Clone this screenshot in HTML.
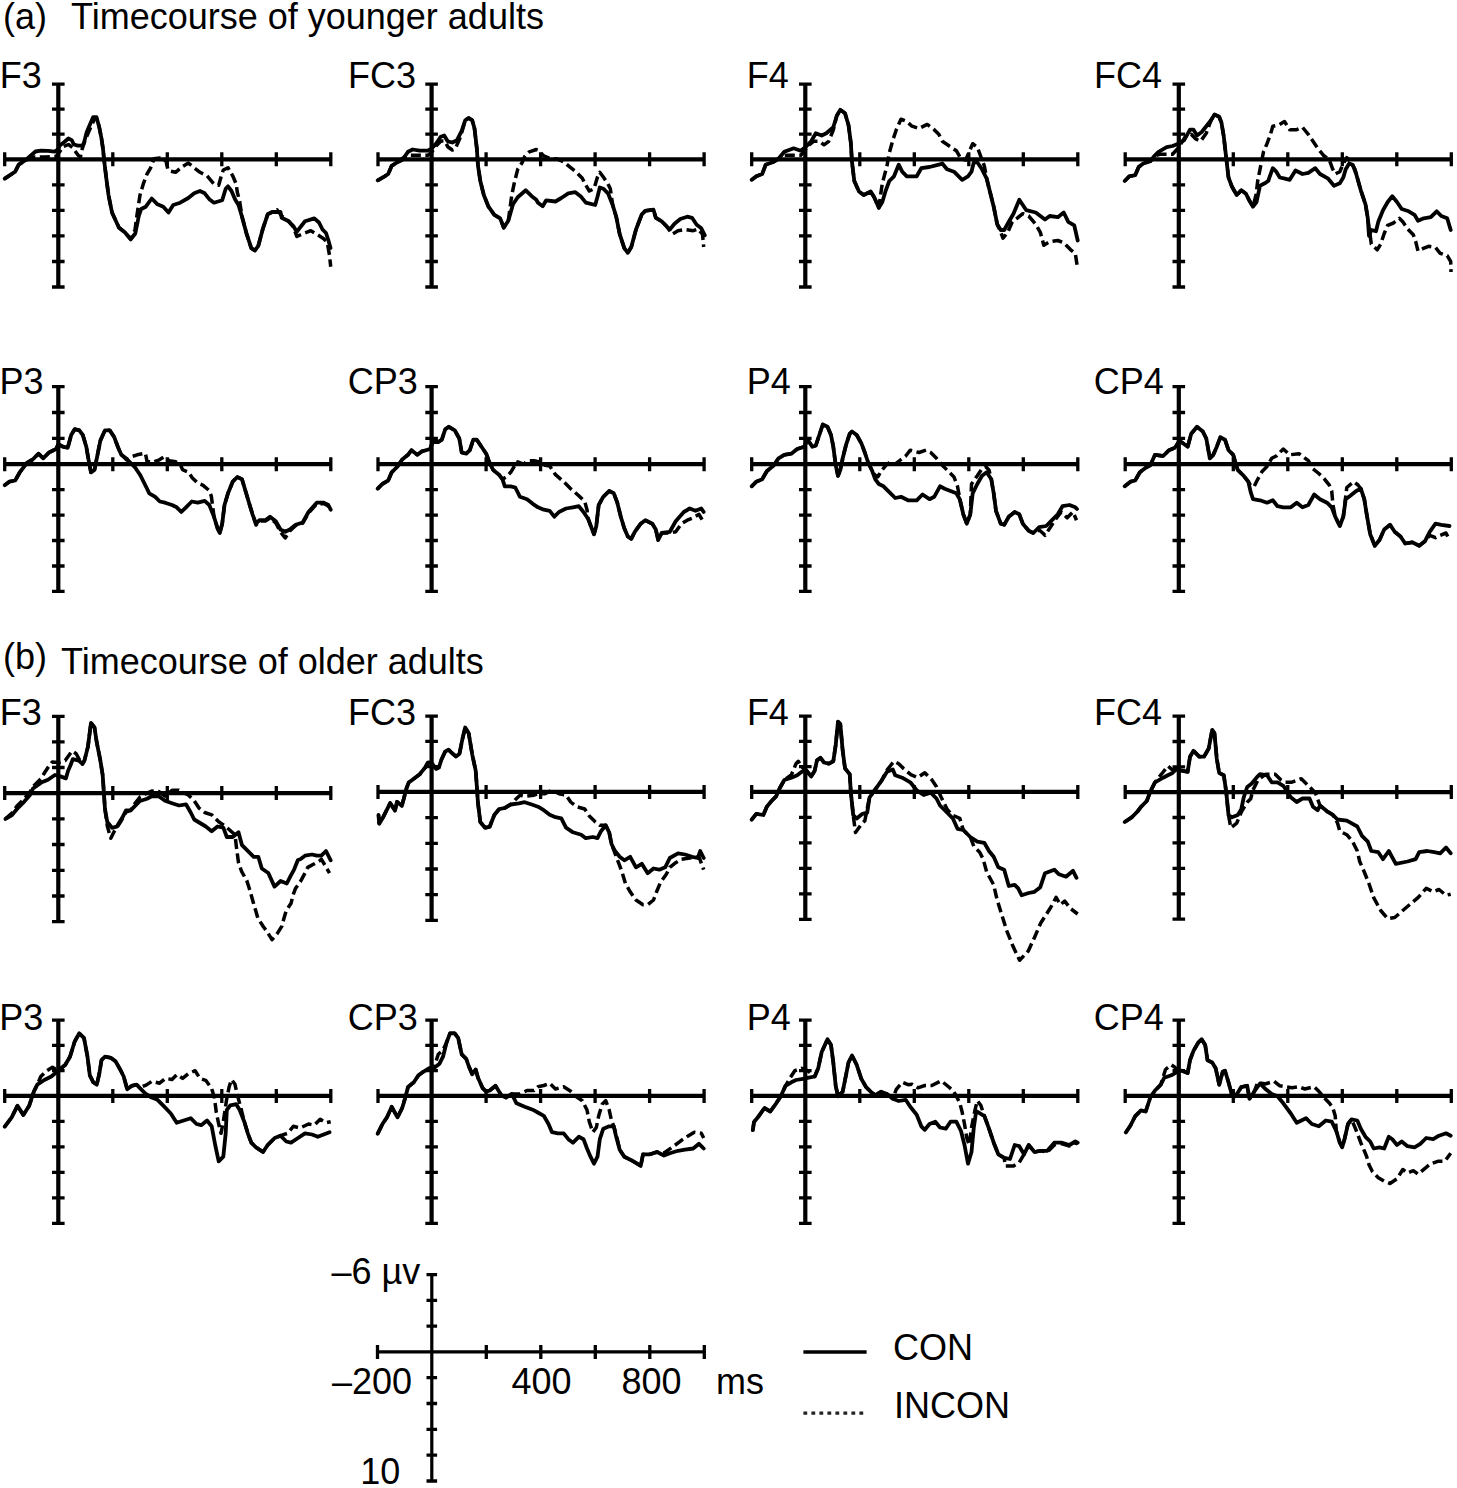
<!DOCTYPE html>
<html><head><meta charset="utf-8"><style>html,body{margin:0;padding:0;background:#fff;width:1457px;height:1488px;overflow:hidden}svg{display:block}</style></head>
<body><svg width="1457" height="1488" viewBox="0 0 1457 1488" font-family="Liberation Sans, sans-serif" font-size="36"><rect width="100%" height="100%" fill="#fff"/><text x="2.9" y="28.8">(a)</text><text x="71" y="28.8">Timecourse of younger adults</text><text x="2.9" y="669.2">(b)</text><text x="61" y="674.2">Timecourse of older adults</text><text x="41.7" y="88.0" text-anchor="end">F3</text><path d="M58.3 84.1V287.0M4.7 159.3H330.8" stroke="#000" stroke-width="4.2" fill="none"/><path d="M52.0 84.1H64.6M52.0 109.2H64.6M52.0 134.2H64.6M52.0 184.8H64.6M52.0 210.4H64.6M52.0 235.9H64.6M52.0 261.5H64.6M52.0 287.0H64.6M4.7 152.3V166.3M112.8 152.3V166.3M167.3 152.3V166.3M221.8 152.3V166.3M276.3 152.3V166.3M330.8 152.3V166.3" stroke="#000" stroke-width="3.3" fill="none"/><path d="M4.7 178.7 11.7 174.0 15.2 171.7 18.7 164.7 25.7 160.0 35.5 151.5 41.0 150.6 48.0 150.8 54.7 151.7 58.3 149.0 59.7 145.6 64.0 142.3 68.4 138.5 71.7 140.1 73.9 144.5 77.8 145.6 82.2 145.6 83.8 143.4 86.6 132.5 89.3 125.9 93.2 117.1 96.4 117.1 99.2 127.0 101.4 138.0 103.0 148.9 104.1 159.9 106.2 177.5 108.5 195.0 112.0 212.5 119.0 227.7 124.8 232.3 130.7 239.3 135.3 233.5 138.8 216.0 141.2 209.0 145.8 206.7 151.7 198.5 157.5 204.3 163.3 206.7 168.5 212.6 173.2 205.0 180.2 202.7 188.3 198.0 194.2 193.3 200.0 191.0 204.7 193.3 209.3 199.2 214.0 202.7 222.2 200.3 225.7 188.7 228.0 186.3 231.5 191.0 235.0 199.2 238.5 205.0 242.0 216.7 246.7 234.2 251.3 248.2 254.8 250.5 258.3 245.8 263.0 228.3 267.7 214.3 272.3 212.0 280.5 212.0 281.7 217.8 288.7 221.3 293.3 226.0 296.8 231.8 300.3 227.2 305.0 221.3 314.3 218.4 319.0 222.5 322.5 229.5 326.0 233.0 328.3 240.0 330.5 248.0" stroke="#000" stroke-width="3.8" fill="none" stroke-linejoin="round" stroke-linecap="round"/><path d="M4.7 178.7 11.7 174.0 15.2 171.7 18.7 164.7 25.7 160.0 35.0 157.0 45.0 157.0 56.0 156.5 59.7 151.7 63.0 146.7 68.4 144.5 72.8 147.8 75.6 151.7 78.3 155.5 80.5 156.6 82.2 148.9 84.9 140.7 88.2 133.0 91.5 125.5 94.3 119.5 96.4 117.5 99.2 127.0 101.4 138.0 103.0 148.9 104.1 159.9 106.2 177.5 108.5 195.0 112.0 212.5 119.0 227.7 124.8 232.3 130.7 239.3 135.0 230.0 136.5 218.3 140.0 195.0 143.5 183.3 147.0 174.0 150.5 168.2 154.0 158.8 160.0 158.0 166.0 161.0 168.0 170.0 170.8 171.2 175.5 172.3 182.5 166.5 188.3 163.0 194.2 167.7 200.0 172.3 207.0 175.8 214.0 184.0 218.7 185.2 221.0 177.0 223.3 170.0 228.0 167.7 232.7 175.8 236.2 184.0 237.3 192.2 239.7 201.5 242.0 216.7 246.7 234.2 251.3 248.2 254.8 250.5 258.3 245.8 263.0 228.3 267.7 214.3 272.3 212.0 277.0 209.7 281.7 216.0 288.7 221.3 293.3 227.0 296.8 236.5 305.0 233.0 310.8 230.7 316.7 234.2 323.7 238.8 327.2 242.3 329.5 255.2 330.7 266.8" stroke="#000" stroke-width="3.5" fill="none" stroke-dasharray="10 4.5" stroke-linejoin="round"/><text x="416.0" y="88.0" text-anchor="end">FC3</text><path d="M431.6 84.1V287.0M378.0 159.3H704.1" stroke="#000" stroke-width="4.2" fill="none"/><path d="M425.3 84.1H437.9M425.3 109.2H437.9M425.3 134.2H437.9M425.3 184.8H437.9M425.3 210.4H437.9M425.3 235.9H437.9M425.3 261.5H437.9M425.3 287.0H437.9M378.0 152.3V166.3M486.1 152.3V166.3M540.6 152.3V166.3M595.1 152.3V166.3M649.6 152.3V166.3M704.1 152.3V166.3" stroke="#000" stroke-width="3.3" fill="none"/><path d="M377.7 180.4 384.7 176.3 388.2 174.0 391.7 165.8 396.3 162.9 402.2 160.0 408.0 151.8 412.7 149.5 419.7 150.7 427.8 150.7 431.9 148.3 436.0 143.7 440.7 136.7 444.2 135.5 447.7 141.3 452.3 142.5 457.0 140.2 461.7 130.8 465.2 120.3 468.7 118.0 472.2 120.3 474.5 128.5 476.8 148.3 478.0 165.8 480.3 181.0 483.8 195.0 488.5 206.7 494.3 214.8 500.2 218.3 503.7 227.7 508.3 220.7 513.0 204.3 517.7 197.3 525.8 190.3 531.7 196.2 536.3 199.7 538.0 202.7 542.7 206.2 546.2 200.3 555.5 201.5 561.3 198.0 568.3 193.3 575.3 192.2 581.2 196.8 585.8 202.7 595.2 205.0 597.5 196.8 599.8 187.5 603.3 188.7 608.0 193.3 612.7 205.0 616.2 216.7 619.7 234.2 624.3 248.2 627.8 252.8 631.3 247.0 636.0 229.5 641.8 214.3 645.3 210.8 653.5 209.7 655.8 217.8 661.7 221.3 666.3 226.0 669.8 229.5 674.5 223.7 680.3 219.0 687.3 216.7 692.0 217.8 696.7 224.8 701.3 228.3 704.8 235.3" stroke="#000" stroke-width="3.8" fill="none" stroke-linejoin="round" stroke-linecap="round"/><path d="M377.7 180.4 384.7 176.3 388.2 174.0 391.7 165.8 396.3 162.9 402.2 158.5 408.0 155.3 419.7 155.3 427.8 155.3 431.9 152.0 436.0 146.0 441.0 141.0 444.5 141.0 448.0 147.0 452.3 150.0 455.0 149.0 457.0 144.8 460.5 136.7 465.2 120.3 468.7 118.0 472.2 120.3 474.5 128.5 476.8 148.3 478.0 165.8 480.3 181.0 483.8 195.0 488.5 206.7 494.3 214.8 500.2 218.3 503.7 227.7 508.3 220.7 511.8 195.0 514.2 183.3 517.7 169.3 522.3 162.3 524.7 156.5 529.3 151.8 536.3 149.5 538.0 150.2 543.8 156.0 549.7 158.3 556.7 158.9 563.7 161.8 570.7 167.7 576.5 172.3 582.3 178.2 585.8 185.2 589.3 191.0 594.0 188.7 597.5 177.0 599.8 172.3 603.3 177.0 608.0 184.0 610.3 188.7 612.7 205.0 616.2 216.7 619.7 234.2 624.3 248.2 627.8 252.8 631.3 247.0 636.0 229.5 641.8 214.3 645.3 210.8 653.5 209.7 655.8 217.8 661.7 221.3 666.3 226.0 672.2 234.2 678.0 230.7 685.0 229.5 693.2 230.7 698.0 229.0 702.5 234.2 703.7 247.0" stroke="#000" stroke-width="3.5" fill="none" stroke-dasharray="10 4.5" stroke-linejoin="round"/><text x="788.8" y="88.0" text-anchor="end">F4</text><path d="M805.3 84.1V287.0M751.7 159.3H1077.8" stroke="#000" stroke-width="4.2" fill="none"/><path d="M799.0 84.1H811.6M799.0 109.2H811.6M799.0 134.2H811.6M799.0 184.8H811.6M799.0 210.4H811.6M799.0 235.9H811.6M799.0 261.5H811.6M799.0 287.0H811.6M751.7 152.3V166.3M859.8 152.3V166.3M914.3 152.3V166.3M968.8 152.3V166.3M1023.3 152.3V166.3M1077.8 152.3V166.3" stroke="#000" stroke-width="3.3" fill="none"/><path d="M751.7 179.8 756.3 176.3 762.2 174.0 765.7 164.7 772.7 162.3 778.5 158.8 784.3 151.8 793.7 148.3 800.7 150.7 805.3 147.2 811.2 141.3 815.8 133.2 821.7 135.5 826.3 133.2 833.3 127.3 836.8 115.7 840.3 109.8 845.0 113.3 848.5 125.0 850.8 142.5 852.0 162.3 854.3 181.0 859.0 191.5 863.7 195.0 870.7 191.5 874.2 197.3 878.8 207.8 882.3 202.0 885.8 190.3 889.3 181.0 894.0 176.3 898.7 164.7 902.2 171.7 906.8 176.3 912.0 176.3 916.7 176.3 921.3 168.2 929.5 167.0 938.8 164.7 942.3 163.5 947.0 169.3 954.0 171.7 958.7 176.3 962.2 179.8 968.0 176.3 971.5 171.7 973.8 162.3 977.3 162.3 982.0 169.3 986.7 178.7 990.2 192.7 993.7 206.7 997.2 224.2 1000.7 230.0 1004.2 230.0 1008.8 221.8 1013.5 213.7 1019.3 199.7 1026.3 210.2 1035.7 212.5 1045.0 219.5 1049.7 216.0 1057.8 217.2 1063.7 212.5 1068.3 221.8 1074.2 225.3 1077.7 240.5" stroke="#000" stroke-width="3.8" fill="none" stroke-linejoin="round" stroke-linecap="round"/><path d="M751.7 179.8 756.3 176.3 762.2 174.0 765.7 164.7 772.7 162.3 778.5 158.8 784.3 155.3 793.7 155.3 800.7 155.3 805.3 150.0 807.7 146.0 813.5 141.3 819.3 141.3 824.0 144.8 828.7 141.3 833.3 130.0 836.8 115.7 840.3 109.8 845.0 113.3 848.5 125.0 850.8 142.5 852.0 162.3 854.3 181.0 859.0 191.5 863.7 195.0 870.7 191.5 874.2 197.3 878.8 207.8 882.3 183.3 887.0 165.8 889.3 153.0 892.8 140.2 896.3 129.7 901.0 119.2 906.8 121.5 912.0 126.2 919.0 128.5 927.2 124.4 934.2 129.7 938.8 134.3 942.3 141.3 949.3 146.0 956.3 150.7 961.0 158.8 965.7 160.0 969.2 151.8 972.7 143.7 977.3 147.2 980.8 156.5 984.3 165.8 986.7 178.7 990.2 192.7 993.7 206.7 997.2 224.2 1000.7 232.0 1003.0 238.2 1007.7 232.3 1012.3 221.8 1017.0 218.3 1022.8 213.7 1028.7 216.0 1035.7 224.2 1040.3 232.3 1043.8 245.2 1049.7 241.7 1057.8 240.5 1063.7 242.8 1070.7 249.8 1075.3 253.3 1077.5 268.0" stroke="#000" stroke-width="3.5" fill="none" stroke-dasharray="10 4.5" stroke-linejoin="round"/><text x="1162.0" y="88.0" text-anchor="end">FC4</text><path d="M1178.8 84.1V287.0M1125.2 159.3H1451.3" stroke="#000" stroke-width="4.2" fill="none"/><path d="M1172.5 84.1H1185.1M1172.5 109.2H1185.1M1172.5 134.2H1185.1M1172.5 184.8H1185.1M1172.5 210.4H1185.1M1172.5 235.9H1185.1M1172.5 261.5H1185.1M1172.5 287.0H1185.1M1125.2 152.3V166.3M1233.3 152.3V166.3M1287.8 152.3V166.3M1342.3 152.3V166.3M1396.8 152.3V166.3M1451.3 152.3V166.3" stroke="#000" stroke-width="3.3" fill="none"/><path d="M1124.7 181.0 1129.3 176.3 1135.2 175.2 1138.7 167.0 1143.3 163.5 1150.3 161.2 1155.0 155.3 1158.5 151.8 1166.7 147.2 1172.5 146.0 1178.3 143.7 1184.2 140.2 1190.0 129.7 1193.5 129.7 1197.0 135.5 1201.7 132.0 1206.3 126.2 1211.0 120.3 1214.5 114.5 1219.2 116.8 1221.5 122.7 1223.8 136.7 1226.2 157.7 1228.5 177.5 1232.0 186.8 1236.7 195.0 1241.3 190.3 1246.0 193.8 1249.5 200.8 1253.0 206.7 1256.5 202.0 1260.0 185.7 1264.7 183.3 1268.2 181.0 1272.8 168.2 1276.3 171.7 1279.8 177.5 1285.0 178.7 1289.7 179.8 1295.5 170.5 1302.5 174.0 1308.3 172.8 1315.3 168.2 1320.0 174.0 1328.2 178.7 1334.0 185.7 1339.8 183.3 1343.3 177.5 1345.7 169.3 1349.2 163.5 1352.7 164.7 1356.2 174.0 1360.8 190.3 1365.5 204.3 1367.8 218.3 1369.0 235.8 1371.3 230.0 1376.0 231.2 1378.3 221.8 1383.0 210.2 1387.7 202.0 1392.3 196.2 1397.0 202.0 1401.7 209.0 1408.7 211.3 1414.5 214.8 1418.0 220.7 1423.8 218.3 1430.8 217.2 1436.7 211.3 1441.3 216.0 1447.2 218.3 1450.7 230.0" stroke="#000" stroke-width="3.8" fill="none" stroke-linejoin="round" stroke-linecap="round"/><path d="M1124.7 181.0 1129.3 176.3 1135.2 175.2 1138.7 167.0 1143.3 163.5 1150.3 161.2 1155.0 156.0 1160.0 154.2 1172.5 154.2 1178.3 148.0 1185.3 136.7 1191.2 134.3 1195.8 139.0 1200.5 141.3 1206.3 133.2 1211.0 120.3 1214.5 114.5 1219.2 116.8 1221.5 122.7 1223.8 136.7 1226.2 157.7 1228.5 177.5 1232.0 186.8 1236.7 195.0 1241.3 190.3 1246.0 193.8 1249.5 200.8 1253.0 206.7 1256.0 195.0 1257.7 181.0 1260.0 169.3 1263.5 151.8 1267.0 143.7 1270.5 134.3 1272.8 126.2 1278.7 125.0 1284.5 121.5 1289.7 129.7 1296.7 129.7 1302.5 127.3 1308.3 134.3 1313.0 141.3 1317.7 148.3 1323.5 155.3 1329.3 160.0 1332.8 169.3 1335.2 174.0 1339.8 171.7 1343.3 163.5 1346.8 157.7 1350.3 161.2 1355.0 169.3 1356.2 174.0 1360.8 190.3 1365.5 204.3 1367.8 218.3 1371.3 244.0 1377.2 249.8 1380.7 244.0 1384.2 233.5 1387.7 225.3 1393.5 223.0 1399.3 218.3 1402.8 221.8 1407.5 228.8 1413.3 234.7 1415.7 241.7 1418.0 251.0 1422.7 248.7 1428.5 246.3 1435.5 247.5 1440.2 253.3 1447.2 255.7 1450.7 261.5 1451.0 272.0" stroke="#000" stroke-width="3.5" fill="none" stroke-dasharray="10 4.5" stroke-linejoin="round"/><text x="43.5" y="393.8" text-anchor="end">P3</text><path d="M58.3 386.6V591.4M4.7 464.2H330.8" stroke="#000" stroke-width="4.2" fill="none"/><path d="M52.0 386.6H64.6M52.0 412.5H64.6M52.0 438.3H64.6M52.0 489.6H64.6M52.0 515.1H64.6M52.0 540.5H64.6M52.0 566.0H64.6M52.0 591.4H64.6M4.7 457.2V471.2M112.8 457.2V471.2M167.3 457.2V471.2M221.8 457.2V471.2M276.3 457.2V471.2M330.8 457.2V471.2" stroke="#000" stroke-width="3.3" fill="none"/><path d="M4.7 485.2 9.3 481.7 15.2 480.5 19.8 472.3 26.8 463.0 32.7 459.5 38.5 453.7 43.2 458.3 49.0 452.5 56.0 449.0 58.3 444.3 63.0 446.7 67.7 447.8 71.2 435.0 74.7 429.2 79.3 430.3 82.8 435.0 86.3 446.7 88.7 460.7 91.0 472.3 94.5 470.0 96.8 458.3 100.3 440.8 105.0 430.3 109.7 430.3 114.3 437.3 117.8 446.7 121.3 454.8 126.0 458.3 130.7 463.0 135.3 467.7 140.0 474.7 144.7 484.0 149.3 493.3 155.2 496.8 159.8 501.5 165.0 502.7 172.0 505.0 176.7 507.3 181.3 512.0 186.0 507.3 191.8 501.5 197.7 502.7 204.7 500.9 209.3 505.0 214.0 516.7 217.5 528.3 219.8 533.0 222.2 523.7 224.5 505.0 228.0 493.3 232.7 481.7 237.3 477.0 242.0 479.3 245.5 491.0 249.0 502.7 252.5 514.3 256.0 523.7 259.5 520.2 265.3 520.2 270.0 516.7 275.8 521.3 280.5 529.5 285.2 531.8 289.8 529.5 295.7 524.8 302.7 522.5 308.5 512.0 316.7 502.7 323.7 502.7 328.3 505.0 330.7 509.7" stroke="#000" stroke-width="3.8" fill="none" stroke-linejoin="round" stroke-linecap="round"/><path d="M4.7 485.2 9.3 481.7 15.2 480.5 19.8 472.3 26.8 463.0 32.7 459.5 38.5 453.7 43.2 458.3 49.0 452.5 56.0 449.0 58.3 444.3 63.0 446.7 67.7 447.8 71.2 435.0 74.7 429.2 79.3 430.3 82.8 435.0 86.3 446.7 88.7 460.7 91.0 472.3 94.5 470.0 96.8 458.3 100.3 440.8 105.0 430.3 109.7 430.3 114.3 437.3 117.8 446.7 120.7 454.0 126.5 459.8 132.0 456.5 137.2 454.8 145.4 453.2 147.0 461.4 152.8 462.2 159.4 459.8 163.5 457.3 169.3 460.6 175.9 461.8 180.8 465.5 182.5 469.7 188.3 472.1 192.4 477.9 197.3 482.8 203.1 485.3 208.8 490.2 211.3 496.0 214.0 516.7 217.5 528.3 219.8 533.0 222.2 523.7 224.5 505.0 228.0 493.3 232.7 481.7 237.3 477.0 242.0 479.3 245.5 491.0 249.0 502.7 252.5 514.3 256.0 525.0 259.5 521.0 265.3 521.0 270.0 518.0 275.8 523.0 280.5 532.0 285.2 538.0 289.8 531.0 295.7 525.5 302.7 523.0 308.5 513.0 316.7 504.0 323.7 503.5 328.3 506.0 330.7 511.0" stroke="#000" stroke-width="3.5" fill="none" stroke-dasharray="10 4.5" stroke-linejoin="round"/><text x="417.7" y="393.8" text-anchor="end">CP3</text><path d="M431.6 386.6V591.4M378.0 464.2H704.1" stroke="#000" stroke-width="4.2" fill="none"/><path d="M425.3 386.6H437.9M425.3 412.5H437.9M425.3 438.3H437.9M425.3 489.6H437.9M425.3 515.1H437.9M425.3 540.5H437.9M425.3 566.0H437.9M425.3 591.4H437.9M378.0 457.2V471.2M486.1 457.2V471.2M540.6 457.2V471.2M595.1 457.2V471.2M649.6 457.2V471.2M704.1 457.2V471.2" stroke="#000" stroke-width="3.3" fill="none"/><path d="M377.7 488.7 382.3 484.0 388.2 480.5 391.7 472.3 397.5 466.5 402.2 459.5 408.0 454.8 411.5 450.2 417.3 454.8 422.0 451.3 430.2 449.0 432.5 442.0 438.3 442.0 441.8 439.7 445.3 429.2 448.8 426.8 454.7 430.3 459.3 438.5 461.7 452.5 466.3 453.7 469.8 450.2 473.3 439.7 476.8 439.7 481.5 446.7 486.2 453.7 489.7 463.0 493.2 470.0 499.0 474.7 502.5 479.3 504.8 486.3 510.7 486.3 515.3 487.5 520.0 496.8 527.0 499.2 532.8 503.8 538.0 507.3 543.8 509.7 549.7 510.8 554.3 516.7 559.0 512.0 566.0 508.5 573.0 507.3 578.8 506.2 583.5 512.0 588.2 519.0 591.7 528.3 594.0 534.2 596.3 526.0 598.7 505.0 603.3 496.8 609.2 491.0 613.8 493.3 617.3 502.7 620.8 516.7 624.3 528.3 627.8 536.5 631.3 538.8 634.8 531.8 640.7 523.7 645.3 520.2 652.3 523.7 655.8 529.5 658.2 540.0 661.7 533.0 669.8 531.8 675.7 521.3 683.8 512.0 689.7 508.5 695.5 510.8 701.3 508.5 703.7 512.0" stroke="#000" stroke-width="3.8" fill="none" stroke-linejoin="round" stroke-linecap="round"/><path d="M377.7 488.7 382.3 484.0 388.2 480.5 391.7 472.3 397.5 466.5 402.2 459.5 408.0 454.8 411.5 450.2 417.3 454.8 422.0 451.3 430.2 449.0 432.5 442.0 438.3 442.0 441.8 439.7 445.3 429.2 448.8 426.8 454.7 430.3 459.3 438.5 461.7 452.5 466.3 453.7 469.8 450.2 473.3 439.7 476.8 439.7 481.5 446.7 486.2 453.7 489.7 463.0 493.2 470.0 499.0 474.7 502.5 479.3 506.0 477.0 510.7 472.3 514.2 466.5 517.7 461.8 523.5 464.2 528.2 460.7 534.0 460.7 539.8 462.0 545.0 465.3 549.7 466.0 555.5 474.7 563.7 481.7 570.7 488.7 578.8 495.7 584.7 501.5 587.0 509.7 588.2 519.0 591.7 528.3 594.0 534.2 596.3 526.0 598.7 505.0 603.3 496.8 609.2 491.0 613.8 493.3 617.3 502.7 620.8 516.7 624.3 528.3 627.8 536.5 631.3 538.8 634.8 531.8 640.7 523.7 645.3 520.2 652.3 523.7 655.8 529.5 658.2 540.0 661.7 533.0 669.8 533.0 675.7 531.8 681.5 523.7 687.3 520.2 693.2 517.8 699.0 514.3 703.7 522.5" stroke="#000" stroke-width="3.5" fill="none" stroke-dasharray="10 4.5" stroke-linejoin="round"/><text x="790.8" y="393.8" text-anchor="end">P4</text><path d="M805.3 386.6V591.4M751.7 464.2H1077.8" stroke="#000" stroke-width="4.2" fill="none"/><path d="M799.0 386.6H811.6M799.0 412.5H811.6M799.0 438.3H811.6M799.0 489.6H811.6M799.0 515.1H811.6M799.0 540.5H811.6M799.0 566.0H811.6M799.0 591.4H811.6M751.7 457.2V471.2M859.8 457.2V471.2M914.3 457.2V471.2M968.8 457.2V471.2M1023.3 457.2V471.2M1077.8 457.2V471.2" stroke="#000" stroke-width="3.3" fill="none"/><path d="M751.7 486.3 756.3 481.7 762.2 479.3 766.8 471.2 773.8 465.3 778.5 458.3 784.3 454.8 791.3 453.7 797.2 449.0 804.2 446.7 807.7 439.7 812.3 446.7 815.8 445.5 819.3 435.0 822.8 424.5 827.5 426.8 831.0 435.0 833.3 446.7 835.7 465.3 838.0 475.8 840.3 470.0 842.7 458.3 846.2 444.3 849.7 433.8 852.0 431.5 856.7 435.0 861.3 443.2 864.8 452.5 868.3 463.0 871.8 470.0 875.3 479.3 878.8 484.0 883.5 486.3 889.3 492.2 895.2 498.0 901.0 496.8 908.0 500.3 916.7 500.3 922.5 494.5 929.5 499.2 934.2 496.8 940.0 486.3 944.7 488.7 950.5 491.0 956.3 493.3 959.8 499.2 963.3 514.3 966.8 523.7 970.3 514.3 972.7 493.3 977.3 484.0 982.0 475.8 986.7 472.3 991.3 479.3 993.7 493.3 996.0 510.8 1000.7 523.7 1004.2 524.8 1008.8 516.7 1014.7 512.0 1019.3 514.3 1022.8 523.7 1028.7 530.7 1033.3 533.0 1039.2 527.2 1046.2 526.0 1052.0 520.2 1057.8 514.3 1062.5 506.2 1069.5 505.0 1075.3 507.3 1077.0 509.0" stroke="#000" stroke-width="3.8" fill="none" stroke-linejoin="round" stroke-linecap="round"/><path d="M751.7 486.3 756.3 481.7 762.2 479.3 766.8 471.2 773.8 465.3 778.5 458.3 784.3 454.8 791.3 453.7 797.2 449.0 804.2 446.7 807.7 439.7 812.3 446.7 815.8 445.5 819.3 435.0 822.8 424.5 827.5 426.8 831.0 435.0 833.3 446.7 835.7 465.3 838.0 475.8 840.3 470.0 842.7 458.3 846.2 444.3 849.7 433.8 852.0 431.5 856.7 435.0 861.3 443.2 864.8 452.5 868.3 463.0 871.8 470.0 874.0 474.0 877.7 477.0 881.2 471.2 885.8 465.3 890.5 461.8 895.2 464.2 901.0 459.5 905.7 456.0 910.3 450.2 919.0 452.5 926.0 450.2 930.7 452.5 936.5 458.3 942.3 465.3 948.2 471.2 954.0 477.0 957.5 486.3 960.0 500.0 963.3 514.3 966.8 523.7 970.3 514.3 971.5 484.0 977.3 475.8 982.0 468.8 985.5 466.5 989.0 470.0 991.3 479.3 993.7 493.3 996.0 510.8 1000.7 523.7 1004.2 524.8 1008.8 516.7 1014.7 512.0 1019.3 514.3 1022.8 523.7 1028.7 530.7 1033.3 533.0 1039.2 530.0 1042.7 533.0 1045.0 535.3 1049.7 528.3 1055.0 520.0 1061.3 512.0 1067.2 517.8 1073.0 512.0 1076.5 520.2" stroke="#000" stroke-width="3.5" fill="none" stroke-dasharray="10 4.5" stroke-linejoin="round"/><text x="1163.9" y="393.8" text-anchor="end">CP4</text><path d="M1178.8 386.6V591.4M1125.2 464.2H1451.3" stroke="#000" stroke-width="4.2" fill="none"/><path d="M1172.5 386.6H1185.1M1172.5 412.5H1185.1M1172.5 438.3H1185.1M1172.5 489.6H1185.1M1172.5 515.1H1185.1M1172.5 540.5H1185.1M1172.5 566.0H1185.1M1172.5 591.4H1185.1M1125.2 457.2V471.2M1233.3 457.2V471.2M1287.8 457.2V471.2M1342.3 457.2V471.2M1396.8 457.2V471.2M1451.3 457.2V471.2" stroke="#000" stroke-width="3.3" fill="none"/><path d="M1124.7 486.3 1130.5 481.7 1135.2 480.5 1139.8 472.3 1145.7 467.7 1150.3 465.3 1155.0 454.8 1163.2 456.0 1169.0 450.2 1174.8 447.8 1179.5 440.8 1183.0 443.2 1187.7 446.7 1191.2 433.8 1197.0 426.8 1202.8 431.5 1206.3 438.5 1209.8 458.3 1213.3 454.8 1216.8 446.7 1220.3 437.3 1225.0 439.7 1228.5 450.2 1233.2 454.8 1235.5 463.0 1237.8 470.0 1243.7 475.8 1248.3 481.7 1250.7 492.2 1253.0 499.2 1260.0 500.3 1267.0 502.7 1272.8 500.3 1277.5 506.2 1283.3 507.3 1290.8 507.3 1296.7 502.7 1302.5 507.3 1308.3 505.0 1314.2 494.5 1320.0 499.2 1327.0 502.7 1331.7 507.3 1335.2 516.7 1339.8 526.0 1343.3 516.7 1345.7 499.2 1350.3 495.7 1356.2 491.0 1360.8 488.7 1364.3 499.2 1366.7 514.3 1370.2 534.2 1374.8 545.8 1379.5 540.0 1384.2 529.5 1390.0 524.8 1394.7 531.8 1400.5 536.5 1405.2 543.5 1412.2 542.3 1419.2 545.8 1425.0 541.2 1429.7 531.8 1435.5 523.7 1441.3 524.8 1449.5 526.0" stroke="#000" stroke-width="3.8" fill="none" stroke-linejoin="round" stroke-linecap="round"/><path d="M1124.7 486.3 1130.5 481.7 1135.2 480.5 1139.8 472.3 1145.7 467.7 1150.3 465.3 1155.0 454.8 1163.2 456.0 1169.0 450.2 1174.8 447.8 1179.5 440.8 1183.0 443.2 1187.7 446.7 1191.2 433.8 1197.0 426.8 1202.8 431.5 1206.3 438.5 1209.8 458.3 1213.3 454.8 1216.8 446.7 1220.3 437.3 1225.0 439.7 1228.5 450.2 1233.2 454.8 1235.5 463.0 1237.8 470.0 1243.7 475.8 1248.3 481.7 1251.0 486.0 1254.2 486.3 1257.7 479.3 1262.3 471.2 1267.0 466.5 1271.7 458.3 1276.3 456.0 1283.3 449.0 1289.7 454.8 1299.0 453.7 1308.3 460.7 1313.0 468.8 1318.8 473.5 1324.7 479.3 1329.3 485.2 1331.7 491.0 1333.0 505.0 1335.2 516.7 1339.8 526.0 1343.3 516.7 1346.8 487.5 1353.8 481.7 1358.0 485.0 1360.8 488.7 1364.3 499.2 1366.7 514.3 1370.2 534.2 1374.8 545.8 1379.5 540.0 1384.2 529.5 1390.0 524.8 1394.7 531.8 1400.5 536.5 1405.2 543.5 1412.2 542.3 1419.2 545.8 1425.0 541.2 1429.7 535.3 1435.5 537.7 1440.2 535.3 1446.0 533.0 1449.5 540.0" stroke="#000" stroke-width="3.5" fill="none" stroke-dasharray="10 4.5" stroke-linejoin="round"/><text x="41.7" y="725.4" text-anchor="end">F3</text><path d="M58.3 716.3V921.7M4.7 793.1H330.8" stroke="#000" stroke-width="4.2" fill="none"/><path d="M52.0 716.3H64.6M52.0 741.9H64.6M52.0 767.5H64.6M52.0 818.8H64.6M52.0 844.5H64.6M52.0 870.3H64.6M52.0 896.0H64.6M52.0 921.7H64.6M4.7 786.1V800.1M112.8 786.1V800.1M167.3 786.1V800.1M221.8 786.1V800.1M276.3 786.1V800.1M330.8 786.1V800.1" stroke="#000" stroke-width="3.3" fill="none"/><path d="M5.5 818.9 12.0 815.0 17.0 809.0 23.0 803.0 30.0 795.0 33.0 788.5 41.2 782.6 48.0 779.8 54.9 775.0 60.4 776.4 65.9 778.4 68.0 770.9 70.7 764.7 72.8 759.2 78.9 760.6 82.4 764.0 84.4 760.6 87.9 746.9 91.0 722.8 94.5 727.5 96.8 742.7 100.3 760.2 102.7 775.3 103.8 791.7 105.0 809.2 107.3 822.0 112.0 827.8 116.7 826.7 122.5 817.3 126.0 810.3 130.7 810.3 135.3 805.7 140.0 801.0 147.0 798.7 151.7 796.3 158.7 796.3 165.0 800.8 172.0 803.2 179.0 805.5 186.0 804.3 190.7 812.5 194.2 819.5 200.0 823.0 205.8 826.5 211.7 831.2 217.5 826.5 223.3 827.7 226.8 837.0 232.7 837.0 238.5 832.3 242.0 845.2 249.0 852.2 253.7 856.8 258.3 856.8 261.8 868.5 268.3 873.0 274.5 886.6 280.6 881.0 286.8 883.5 290.5 876.1 294.2 869.3 297.9 860.0 300.3 859.2 305.0 855.7 312.0 854.5 316.7 855.7 321.3 855.7 326.0 851.0 330.7 860.3" stroke="#000" stroke-width="3.8" fill="none" stroke-linejoin="round" stroke-linecap="round"/><path d="M5.5 818.9 12.0 813.0 17.0 806.0 23.0 800.0 30.0 792.0 33.0 786.7 41.2 778.4 45.0 772.0 48.0 767.5 52.2 762.0 58.3 762.6 65.2 760.6 68.6 755.8 72.0 751.0 76.2 753.7 79.0 759.0 82.4 764.0 84.4 760.6 87.9 746.9 91.0 722.8 94.5 727.5 96.8 742.7 100.3 760.2 102.7 775.3 103.8 791.7 105.0 809.2 107.3 826.0 110.8 838.3 114.3 831.3 121.3 820.8 126.0 812.0 130.7 810.3 135.3 803.0 140.0 797.0 147.0 793.0 151.7 791.0 158.7 791.5 165.0 796.2 172.0 790.3 179.0 790.3 188.3 795.0 194.2 800.8 198.8 807.8 204.7 812.5 211.7 814.8 218.7 821.8 225.7 826.5 235.0 834.7 236.2 845.2 238.5 862.7 241.7 871.7 246.7 880.4 249.1 887.8 251.6 896.4 253.5 903.2 255.9 911.3 257.8 918.1 263.4 926.7 267.1 931.6 272.0 939.7 276.9 934.1 281.9 926.1 283.7 919.3 286.2 910.6 291.1 903.2 293.0 895.2 295.5 888.4 300.4 881.6 304.7 873.6 307.8 867.4 313.4 864.3 319.0 861.2 321.3 859.2 324.8 865.0 329.5 873.2" stroke="#000" stroke-width="3.5" fill="none" stroke-dasharray="10 4.5" stroke-linejoin="round"/><text x="416.0" y="725.4" text-anchor="end">FC3</text><path d="M431.6 716.2V920.4M378.0 791.9H704.1" stroke="#000" stroke-width="4.2" fill="none"/><path d="M425.3 716.2H437.9M425.3 741.4H437.9M425.3 766.7H437.9M425.3 817.6H437.9M425.3 843.3H437.9M425.3 869.0H437.9M425.3 894.7H437.9M425.3 920.4H437.9M378.0 784.9V798.9M486.1 784.9V798.9M540.6 784.9V798.9M595.1 784.9V798.9M649.6 784.9V798.9M704.1 784.9V798.9" stroke="#000" stroke-width="3.3" fill="none"/><path d="M378.5 814.8 379.2 823.7 383.3 816.9 390.2 803.1 395.0 810.7 397.0 801.8 401.8 805.9 403.9 798.3 406.6 788.0 408.7 782.6 414.2 778.4 419.7 774.3 422.4 770.9 425.2 767.5 427.9 762.6 431.3 762.6 436.1 768.8 438.9 767.5 441.6 759.2 445.1 751.7 448.5 749.6 451.9 753.0 456.0 756.5 459.5 753.7 462.2 740.0 465.2 727.5 468.7 733.3 472.2 754.3 475.7 770.7 476.8 785.8 478.0 803.3 480.3 822.0 485.0 827.8 489.7 826.7 494.3 815.0 499.0 809.2 504.8 808.0 510.7 804.5 518.8 803.3 524.7 802.2 531.7 804.5 538.0 806.7 543.8 810.2 549.7 814.8 555.5 817.2 561.3 818.3 566.0 827.7 573.0 832.3 581.2 834.7 585.8 838.2 592.8 837.0 597.5 838.2 601.0 831.2 605.7 825.3 609.2 832.3 611.5 844.0 615.0 851.0 619.7 856.8 624.3 860.3 630.2 856.8 636.0 867.3 641.8 863.8 647.7 873.2 653.5 868.5 659.3 869.7 665.2 867.3 669.8 858.0 678.0 853.3 685.0 854.5 692.0 856.8 697.8 858.0 700.2 851.0 703.7 858.0" stroke="#000" stroke-width="3.8" fill="none" stroke-linejoin="round" stroke-linecap="round"/><path d="M378.5 814.8 379.2 823.7 383.3 816.9 390.2 803.1 395.0 810.7 397.0 801.8 401.8 805.9 403.9 798.3 406.6 788.0 408.7 782.6 414.2 778.4 419.7 774.3 422.4 770.9 425.2 767.5 427.9 762.6 431.3 762.6 436.1 768.8 438.9 767.5 441.6 759.2 445.1 751.7 448.5 749.6 451.9 753.0 456.0 756.5 459.5 753.7 462.2 740.0 465.2 727.5 468.7 733.3 472.2 754.3 475.7 770.7 476.8 785.8 478.0 803.3 480.3 822.0 485.0 827.8 489.7 826.7 494.3 815.0 499.0 809.2 504.8 808.0 510.7 804.5 516.0 799.0 520.0 795.2 524.7 796.3 534.0 795.2 538.0 793.8 545.0 793.8 552.0 790.3 559.0 793.8 566.0 795.0 570.7 802.0 576.5 806.7 584.7 809.0 589.3 816.0 595.2 821.8 599.8 825.3 605.7 825.3 609.2 832.3 611.5 844.0 615.0 853.3 618.5 862.7 622.0 872.0 625.5 883.7 630.2 891.8 636.0 900.0 643.0 904.7 647.7 904.7 653.5 900.0 657.0 890.7 660.5 882.5 666.3 874.3 669.8 867.3 675.7 862.7 681.5 859.2 689.7 858.0 699.0 856.8 703.7 869.7" stroke="#000" stroke-width="3.5" fill="none" stroke-dasharray="10 4.5" stroke-linejoin="round"/><text x="788.9" y="725.4" text-anchor="end">F4</text><path d="M805.3 716.2V919.3M751.7 791.9H1077.8" stroke="#000" stroke-width="4.2" fill="none"/><path d="M799.0 716.2H811.6M799.0 741.4H811.6M799.0 766.7H811.6M799.0 817.4H811.6M799.0 842.9H811.6M799.0 868.3H811.6M799.0 893.8H811.6M799.0 919.3H811.6M751.7 784.9V798.9M859.8 784.9V798.9M914.3 784.9V798.9M968.8 784.9V798.9M1023.3 784.9V798.9M1077.8 784.9V798.9" stroke="#000" stroke-width="3.3" fill="none"/><path d="M751.7 819.7 756.3 813.8 763.3 815.0 766.8 806.8 771.5 801.0 776.2 796.3 779.7 788.2 784.3 780.0 791.3 777.7 797.2 775.3 801.8 771.8 806.5 770.7 811.2 776.5 814.7 770.7 817.0 760.2 820.5 757.8 824.0 762.5 828.7 763.7 833.3 761.3 835.7 745.0 838.0 721.7 840.3 724.0 842.7 750.8 845.0 768.3 849.7 774.2 850.8 791.7 853.2 815.0 856.7 818.5 862.5 813.8 867.2 812.7 869.5 797.5 875.3 789.3 881.2 781.2 887.0 771.8 892.8 769.5 895.2 775.3 902.2 777.7 910.3 782.3 916.7 790.3 923.7 795.0 930.7 792.7 936.5 798.5 940.0 805.5 947.0 812.5 952.8 818.3 957.5 828.8 963.3 830.0 970.3 837.0 977.3 841.7 984.3 842.8 989.0 851.0 993.7 856.8 998.3 867.3 1004.2 869.7 1008.8 886.0 1014.7 884.8 1018.2 888.3 1021.7 895.3 1028.7 893.0 1034.5 891.8 1040.3 887.2 1045.0 873.2 1054.3 869.7 1059.0 874.3 1066.0 876.7 1073.0 870.8 1076.5 877.8" stroke="#000" stroke-width="3.8" fill="none" stroke-linejoin="round" stroke-linecap="round"/><path d="M751.7 819.7 756.3 813.8 763.3 815.0 766.8 806.8 771.5 801.0 776.2 796.3 779.7 788.2 784.3 780.0 791.3 775.0 796.0 763.7 798.3 761.3 803.0 768.3 806.5 770.7 811.2 776.5 814.7 770.7 817.0 760.2 820.5 757.8 824.0 762.5 828.7 763.7 833.3 761.3 835.7 745.0 838.0 721.7 840.3 724.0 842.7 750.8 845.0 768.3 849.7 774.2 850.8 791.7 853.2 815.0 855.5 832.5 861.3 824.3 864.8 820.8 869.5 797.5 875.3 789.3 881.2 781.2 887.0 770.0 894.0 761.3 898.7 763.7 903.3 768.3 910.3 774.2 912.0 775.2 917.8 777.5 924.8 772.8 931.8 779.8 936.5 786.8 941.2 797.3 947.0 809.0 951.7 814.8 959.8 818.3 963.3 830.0 970.3 837.0 973.8 846.3 979.7 852.2 983.2 859.2 986.7 872.0 993.7 884.9 996.8 898.5 1001.7 914.6 1006.7 930.6 1012.9 946.1 1019.6 960.3 1028.3 951.0 1034.5 937.4 1040.6 923.2 1050.5 907.8 1056.1 897.3 1060.4 904.7 1064.7 901.0 1070.3 908.4 1077.7 914.0" stroke="#000" stroke-width="3.5" fill="none" stroke-dasharray="10 4.5" stroke-linejoin="round"/><text x="1162.0" y="725.4" text-anchor="end">FC4</text><path d="M1178.8 716.2V919.2M1125.2 792.1H1451.3" stroke="#000" stroke-width="4.2" fill="none"/><path d="M1172.5 716.2H1185.1M1172.5 741.5H1185.1M1172.5 766.8H1185.1M1172.5 817.5H1185.1M1172.5 842.9H1185.1M1172.5 868.4H1185.1M1172.5 893.8H1185.1M1172.5 919.2H1185.1M1125.2 785.1V799.1M1233.3 785.1V799.1M1287.8 785.1V799.1M1342.3 785.1V799.1M1396.8 785.1V799.1M1451.3 785.1V799.1" stroke="#000" stroke-width="3.3" fill="none"/><path d="M1124.7 822.0 1131.7 817.3 1137.5 811.5 1141.0 806.8 1146.8 801.0 1150.3 791.7 1155.0 782.3 1163.2 777.7 1167.8 775.3 1172.5 773.0 1176.0 769.5 1181.8 770.7 1187.7 771.8 1190.0 756.7 1193.5 750.8 1199.3 756.7 1204.0 756.7 1208.7 748.5 1212.2 729.8 1214.5 733.3 1216.8 759.0 1219.2 773.0 1223.8 775.3 1226.2 791.7 1228.5 815.0 1232.0 817.3 1237.8 815.0 1241.3 809.2 1243.7 797.5 1247.2 787.0 1251.8 783.5 1256.5 777.7 1260.0 774.2 1267.0 775.3 1271.7 782.3 1277.5 782.3 1283.3 785.8 1290.8 797.3 1296.7 802.0 1302.5 798.5 1309.5 798.5 1313.0 806.7 1317.7 810.2 1320.0 805.5 1327.0 811.3 1332.8 814.8 1337.5 819.5 1346.8 820.7 1357.3 826.5 1362.0 835.8 1367.8 841.7 1371.3 851.0 1378.3 852.2 1383.0 859.2 1388.8 851.0 1395.8 863.8 1407.5 861.5 1415.7 859.2 1419.2 852.2 1427.3 851.0 1434.3 852.2 1440.2 853.3 1446.0 847.5 1450.7 853.3" stroke="#000" stroke-width="3.8" fill="none" stroke-linejoin="round" stroke-linecap="round"/><path d="M1124.7 822.0 1131.7 817.3 1137.5 811.5 1141.0 806.8 1146.8 801.0 1150.3 791.7 1155.0 782.3 1163.2 772.0 1167.8 766.0 1172.5 770.0 1176.0 769.5 1181.8 770.7 1187.7 771.8 1190.0 756.7 1193.5 750.8 1199.3 756.7 1204.0 756.7 1208.7 748.5 1212.2 729.8 1214.5 733.3 1216.8 759.0 1219.2 773.0 1223.8 775.3 1226.2 791.7 1228.5 815.0 1230.8 827.8 1236.7 823.2 1241.3 812.0 1247.2 802.2 1250.7 798.7 1253.0 790.0 1258.0 780.0 1265.8 774.2 1275.2 774.2 1281.0 780.0 1285.0 782.2 1292.0 782.2 1301.3 778.7 1308.3 785.7 1315.3 792.7 1320.0 805.5 1327.0 811.3 1332.8 814.8 1337.5 823.0 1339.8 831.2 1346.8 834.7 1352.7 841.7 1357.3 851.0 1359.7 861.5 1364.3 872.0 1369.0 883.7 1373.7 897.7 1380.7 910.5 1387.7 918.7 1394.7 917.5 1402.8 910.5 1411.0 903.5 1418.0 897.7 1426.2 888.3 1433.2 891.8 1439.0 889.5 1446.0 895.3 1450.7 894.2" stroke="#000" stroke-width="3.5" fill="none" stroke-dasharray="10 4.5" stroke-linejoin="round"/><text x="43.4" y="1029.7" text-anchor="end">P3</text><path d="M58.3 1020.1V1223.3M4.7 1095.9H330.8" stroke="#000" stroke-width="4.2" fill="none"/><path d="M52.0 1020.1H64.6M52.0 1045.4H64.6M52.0 1070.6H64.6M52.0 1121.4H64.6M52.0 1146.9H64.6M52.0 1172.3H64.6M52.0 1197.8H64.6M52.0 1223.3H64.6M4.7 1088.9V1102.9M112.8 1088.9V1102.9M167.3 1088.9V1102.9M221.8 1088.9V1102.9M276.3 1088.9V1102.9M330.8 1088.9V1102.9" stroke="#000" stroke-width="3.3" fill="none"/><path d="M4.7 1126.7 11.7 1117.3 17.5 1105.7 23.3 1115.0 29.2 1105.7 33.8 1091.7 37.3 1084.7 44.3 1080.0 51.3 1076.5 58.3 1070.7 65.3 1064.8 70.0 1056.7 74.7 1041.5 79.3 1033.3 84.0 1038.0 87.5 1056.7 89.8 1075.3 93.3 1082.3 96.8 1084.7 99.2 1074.2 101.5 1060.2 105.0 1056.7 110.8 1057.8 115.5 1061.3 120.2 1069.5 123.7 1076.5 127.2 1089.3 131.8 1085.8 136.5 1084.7 141.2 1089.3 145.8 1094.0 151.7 1097.5 157.5 1099.8 163.3 1105.7 170.8 1113.5 176.7 1122.8 183.7 1120.5 190.7 1118.2 196.5 1124.0 201.2 1125.2 207.0 1120.5 211.7 1126.3 215.2 1145.0 218.7 1161.3 223.3 1156.7 225.7 1133.3 226.8 1110.0 230.3 1105.3 236.2 1104.2 239.7 1110.0 244.3 1121.7 247.8 1133.3 251.3 1142.7 256.0 1147.3 263.0 1152.0 267.7 1145.0 274.7 1138.0 280.5 1135.7 286.3 1141.5 291.0 1142.7 298.0 1138.0 305.0 1133.3 312.0 1134.5 317.8 1136.8 323.7 1134.5 329.5 1132.2" stroke="#000" stroke-width="3.8" fill="none" stroke-linejoin="round" stroke-linecap="round"/><path d="M4.7 1126.7 11.7 1117.3 17.5 1105.7 23.3 1115.0 29.2 1105.7 33.8 1091.7 37.3 1084.7 40.8 1076.5 46.7 1070.7 52.5 1067.2 58.3 1070.7 65.3 1064.8 70.0 1056.7 74.7 1041.5 79.3 1033.3 84.0 1038.0 87.5 1056.7 89.8 1075.3 93.3 1082.3 96.8 1084.7 99.2 1074.2 101.5 1060.2 105.0 1056.7 110.8 1057.8 115.5 1061.3 120.2 1069.5 123.7 1076.5 127.2 1089.3 131.8 1085.8 136.5 1084.7 141.2 1087.0 146.1 1085.1 151.9 1081.3 159.6 1083.2 165.3 1078.4 172.0 1079.4 176.8 1074.6 182.6 1078.4 188.4 1073.6 195.1 1070.7 199.9 1078.4 205.7 1080.3 211.4 1088.0 214.3 1097.0 216.3 1112.3 218.7 1124.0 221.0 1133.3 223.3 1121.7 226.8 1098.3 229.2 1086.7 231.5 1079.7 235.0 1084.3 237.3 1094.8 240.8 1107.7 244.3 1121.7 247.8 1133.3 251.3 1142.7 256.0 1147.3 263.0 1152.0 267.7 1145.0 274.7 1138.0 280.5 1135.7 287.5 1133.3 293.3 1126.3 300.0 1128.0 308.5 1124.0 314.3 1125.2 320.2 1119.3 326.0 1122.8 330.7 1121.7" stroke="#000" stroke-width="3.5" fill="none" stroke-dasharray="10 4.5" stroke-linejoin="round"/><text x="417.7" y="1029.7" text-anchor="end">CP3</text><path d="M431.6 1020.1V1223.3M378.0 1095.9H704.1" stroke="#000" stroke-width="4.2" fill="none"/><path d="M425.3 1020.1H437.9M425.3 1045.4H437.9M425.3 1070.6H437.9M425.3 1121.4H437.9M425.3 1146.9H437.9M425.3 1172.3H437.9M425.3 1197.8H437.9M425.3 1223.3H437.9M378.0 1088.9V1102.9M486.1 1088.9V1102.9M540.6 1088.9V1102.9M595.1 1088.9V1102.9M649.6 1088.9V1102.9M704.1 1088.9V1102.9" stroke="#000" stroke-width="3.3" fill="none"/><path d="M377.7 1133.7 382.3 1124.3 387.0 1117.3 391.7 1106.8 397.5 1117.3 402.2 1108.0 405.7 1096.3 408.0 1087.0 413.8 1082.3 418.5 1075.3 423.2 1071.8 429.0 1068.3 433.7 1068.3 439.5 1063.7 443.0 1056.7 446.5 1042.7 450.0 1033.3 454.7 1033.3 458.2 1038.0 461.7 1054.3 466.3 1059.0 468.7 1066.0 472.2 1074.2 475.7 1069.5 478.0 1077.7 482.7 1088.2 486.2 1091.7 489.7 1090.5 495.5 1085.8 501.3 1095.2 506.0 1097.5 511.8 1094.0 516.5 1103.3 524.7 1106.8 534.0 1110.3 538.7 1113.0 543.8 1115.8 548.5 1124.0 552.0 1132.2 557.8 1133.3 563.7 1133.3 568.3 1139.2 573.0 1142.7 578.8 1136.8 583.5 1139.2 587.0 1148.5 590.5 1156.7 594.0 1163.7 597.5 1156.7 599.8 1139.2 603.3 1128.7 609.2 1126.3 613.8 1126.3 616.2 1136.8 619.7 1149.7 624.3 1156.7 631.3 1160.2 637.2 1163.7 640.7 1166.0 643.0 1154.3 650.0 1154.3 657.0 1152.0 664.0 1155.5 669.8 1153.2 678.0 1150.8 685.0 1149.7 693.2 1148.5 699.0 1143.8 703.7 1148.5" stroke="#000" stroke-width="3.8" fill="none" stroke-linejoin="round" stroke-linecap="round"/><path d="M377.7 1133.7 382.3 1124.3 387.0 1117.3 391.7 1106.8 397.5 1117.3 402.2 1108.0 405.7 1096.3 408.0 1087.0 413.8 1082.3 418.5 1075.3 423.2 1071.8 429.0 1068.3 433.7 1068.3 438.3 1054.3 443.0 1050.0 446.5 1042.7 450.0 1033.3 454.7 1033.3 458.2 1038.0 461.7 1054.3 466.3 1059.0 468.7 1066.0 472.2 1074.2 475.7 1069.5 478.0 1077.7 482.7 1088.2 486.2 1091.7 489.7 1090.5 495.5 1085.8 501.3 1095.2 506.0 1097.5 511.8 1094.0 520.0 1094.0 527.0 1090.5 534.0 1090.5 538.0 1086.7 543.8 1085.5 549.7 1083.2 555.5 1089.0 563.7 1086.7 570.7 1091.3 575.3 1096.0 582.3 1100.7 587.0 1110.0 589.3 1121.7 592.8 1132.2 596.3 1127.5 598.7 1115.8 602.2 1104.2 605.7 1100.7 609.2 1110.0 611.5 1120.5 613.8 1126.3 617.3 1139.2 619.7 1149.7 624.3 1156.7 631.3 1160.2 637.2 1163.7 640.7 1166.0 643.0 1154.3 650.0 1154.3 657.0 1152.0 664.0 1153.0 672.2 1147.3 681.5 1140.3 688.5 1135.7 694.3 1132.2 701.3 1133.3 703.7 1138.0" stroke="#000" stroke-width="3.5" fill="none" stroke-dasharray="10 4.5" stroke-linejoin="round"/><text x="790.7" y="1029.7" text-anchor="end">P4</text><path d="M805.3 1020.1V1223.3M751.7 1095.9H1077.8" stroke="#000" stroke-width="4.2" fill="none"/><path d="M799.0 1020.1H811.6M799.0 1045.4H811.6M799.0 1070.6H811.6M799.0 1121.4H811.6M799.0 1146.9H811.6M799.0 1172.3H811.6M799.0 1197.8H811.6M799.0 1223.3H811.6M751.7 1088.9V1102.9M859.8 1088.9V1102.9M914.3 1088.9V1102.9M968.8 1088.9V1102.9M1023.3 1088.9V1102.9M1077.8 1088.9V1102.9" stroke="#000" stroke-width="3.3" fill="none"/><path d="M752.8 1130.2 754.0 1122.0 758.7 1116.2 764.5 1108.0 770.3 1111.5 776.2 1103.3 780.8 1096.3 785.5 1085.8 791.3 1082.3 796.0 1080.0 803.0 1078.8 808.8 1077.7 814.7 1076.5 818.2 1068.3 821.7 1052.0 827.5 1039.2 831.0 1045.0 833.3 1062.5 835.7 1085.8 838.0 1096.3 842.7 1091.7 846.2 1074.2 848.5 1062.5 852.0 1055.5 856.7 1064.8 861.3 1078.8 866.0 1087.0 870.7 1091.7 875.3 1095.2 881.2 1091.7 887.0 1094.0 892.8 1098.7 898.7 1101.0 905.7 1099.8 910.3 1106.8 916.7 1114.7 921.3 1126.3 924.8 1129.8 929.5 1124.0 935.3 1121.7 940.0 1127.5 945.8 1128.7 950.5 1121.7 956.3 1121.7 961.0 1131.0 964.5 1145.0 968.0 1163.7 971.5 1152.0 973.8 1127.5 976.2 1111.2 982.0 1114.7 984.3 1115.8 989.0 1128.7 993.7 1142.7 998.3 1154.3 1004.2 1157.8 1010.0 1159.0 1014.7 1145.0 1019.3 1146.2 1024.0 1154.3 1028.7 1145.0 1034.5 1152.0 1040.3 1150.8 1047.3 1150.8 1054.3 1142.7 1061.3 1142.7 1069.5 1145.0 1075.3 1141.5 1077.7 1142.7" stroke="#000" stroke-width="3.8" fill="none" stroke-linejoin="round" stroke-linecap="round"/><path d="M752.8 1130.2 754.0 1122.0 758.7 1116.2 764.5 1108.0 770.3 1111.5 776.2 1103.3 780.8 1096.3 785.5 1085.8 790.2 1077.7 794.8 1070.7 801.8 1068.3 807.7 1070.7 812.0 1074.0 814.7 1076.5 818.2 1068.3 821.7 1052.0 827.5 1039.2 831.0 1045.0 833.3 1062.5 835.7 1085.8 838.0 1096.3 842.7 1091.7 846.2 1074.2 848.5 1062.5 852.0 1055.5 856.7 1064.8 861.3 1078.8 866.0 1087.0 870.7 1091.7 875.3 1095.2 881.2 1091.7 887.0 1094.0 892.8 1098.7 896.3 1089.3 902.2 1082.3 908.0 1084.7 912.0 1084.3 917.8 1087.8 924.8 1085.5 931.8 1085.5 941.2 1080.8 947.0 1085.5 952.8 1090.2 956.3 1096.0 959.8 1103.0 962.2 1112.3 964.5 1124.0 966.8 1138.0 969.2 1145.0 971.5 1127.5 975.0 1110.0 977.3 1100.7 980.8 1105.3 983.0 1112.0 984.3 1115.8 989.0 1128.7 993.7 1142.7 998.3 1154.3 1004.2 1157.8 1005.3 1166.0 1013.5 1166.0 1019.3 1162.5 1024.0 1154.3 1028.7 1145.0 1034.5 1152.0 1040.3 1150.8 1047.3 1152.0 1054.3 1145.0 1061.3 1143.5 1069.5 1146.0 1075.3 1142.5 1077.7 1144.0" stroke="#000" stroke-width="3.5" fill="none" stroke-dasharray="10 4.5" stroke-linejoin="round"/><text x="1163.9" y="1029.7" text-anchor="end">CP4</text><path d="M1178.8 1020.1V1223.3M1125.2 1095.9H1451.3" stroke="#000" stroke-width="4.2" fill="none"/><path d="M1172.5 1020.1H1185.1M1172.5 1045.4H1185.1M1172.5 1070.6H1185.1M1172.5 1121.4H1185.1M1172.5 1146.9H1185.1M1172.5 1172.3H1185.1M1172.5 1197.8H1185.1M1172.5 1223.3H1185.1M1125.2 1088.9V1102.9M1233.3 1088.9V1102.9M1287.8 1088.9V1102.9M1342.3 1088.9V1102.9M1396.8 1088.9V1102.9M1451.3 1088.9V1102.9" stroke="#000" stroke-width="3.3" fill="none"/><path d="M1125.8 1132.5 1130.5 1125.5 1135.2 1116.2 1141.0 1110.3 1145.7 1111.5 1150.3 1097.5 1155.0 1090.5 1160.8 1084.7 1164.3 1077.7 1171.3 1075.3 1177.2 1071.8 1181.8 1070.7 1187.7 1073.0 1190.0 1060.2 1193.5 1050.8 1198.2 1042.7 1201.7 1039.2 1205.2 1045.0 1207.5 1060.2 1212.2 1062.5 1215.7 1068.3 1219.2 1084.7 1222.7 1071.8 1225.0 1070.7 1228.5 1082.3 1232.0 1095.2 1235.5 1096.3 1241.3 1087.0 1247.2 1085.8 1249.5 1098.7 1254.2 1091.7 1260.0 1083.5 1265.8 1089.3 1271.7 1094.0 1277.5 1096.3 1283.3 1103.3 1290.8 1113.5 1296.7 1122.8 1306.0 1118.2 1311.8 1124.0 1318.8 1126.3 1325.8 1120.5 1331.7 1121.7 1336.3 1131.0 1339.8 1142.7 1342.2 1147.3 1344.5 1139.2 1348.0 1124.0 1351.5 1119.3 1357.3 1120.5 1360.8 1128.7 1365.5 1136.8 1370.2 1141.5 1373.7 1148.5 1379.5 1147.3 1384.2 1148.5 1388.8 1136.8 1392.3 1139.2 1397.0 1145.0 1401.7 1141.5 1407.5 1146.2 1414.5 1147.3 1420.3 1143.8 1426.2 1138.0 1433.2 1139.2 1439.0 1135.7 1446.0 1133.3 1450.7 1135.7" stroke="#000" stroke-width="3.8" fill="none" stroke-linejoin="round" stroke-linecap="round"/><path d="M1125.8 1132.5 1130.5 1125.5 1135.2 1116.2 1141.0 1110.3 1145.7 1111.5 1150.3 1097.5 1155.0 1090.5 1160.8 1084.7 1165.5 1069.5 1171.3 1064.8 1174.8 1067.2 1178.0 1070.0 1181.8 1070.7 1187.7 1073.0 1190.0 1060.2 1193.5 1050.8 1198.2 1042.7 1201.7 1039.2 1205.2 1045.0 1207.5 1060.2 1212.2 1062.5 1215.7 1068.3 1219.2 1084.7 1222.7 1071.8 1225.0 1070.7 1228.5 1082.3 1232.0 1095.2 1235.5 1096.3 1241.3 1087.0 1247.2 1085.8 1249.5 1098.7 1254.2 1091.7 1257.7 1082.3 1265.0 1084.0 1274.0 1081.2 1279.8 1085.8 1285.0 1086.7 1292.0 1087.8 1299.0 1086.7 1304.8 1089.0 1314.2 1086.7 1318.8 1091.3 1324.7 1098.3 1329.3 1103.0 1332.8 1107.7 1335.2 1115.8 1336.3 1131.0 1339.8 1142.7 1342.2 1147.3 1344.5 1139.2 1348.0 1124.0 1351.5 1119.3 1355.0 1127.5 1357.3 1133.3 1360.8 1142.7 1364.3 1150.8 1366.7 1156.7 1369.0 1164.8 1372.5 1171.8 1378.3 1177.7 1384.2 1181.2 1390.0 1183.5 1397.0 1178.8 1402.8 1169.5 1407.5 1173.0 1413.3 1170.7 1418.0 1174.2 1425.0 1168.3 1430.8 1163.7 1437.8 1161.3 1444.8 1161.3 1450.7 1153.2" stroke="#000" stroke-width="3.5" fill="none" stroke-dasharray="10 4.5" stroke-linejoin="round"/><path d="M431.8 1274.6V1481.0M377.5 1351.9H704.3" stroke="#000" stroke-width="3.2" fill="none"/><path d="M426.5 1274.6H437.1M426.5 1300.4H437.1M426.5 1326.1H437.1M426.5 1377.7H437.1M426.5 1403.5H437.1M426.5 1429.4H437.1M426.5 1455.2H437.1M426.5 1481.0H437.1M377.5 1344.9V1358.9M486.3 1344.9V1358.9M540.8 1344.9V1358.9M595.3 1344.9V1358.9M649.8 1344.9V1358.9M704.3 1344.9V1358.9" stroke="#000" stroke-width="3.3" fill="none"/><text x="331.5" y="1283.7">–6 µv</text><text x="332" y="1393.7">–200</text><text x="511.5" y="1393.7">400</text><text x="621.5" y="1393.7">800</text><text x="716" y="1393.7">ms</text><text x="360.3" y="1483.6">10</text><path d="M803.4 1352H866.6" stroke="#000" stroke-width="3.4"/><path d="M803.4 1413.1H866.6" stroke="#222" stroke-width="3.4" stroke-dasharray="3.8 4.2"/><text x="893" y="1360.3">CON</text><text x="894" y="1417.9">INCON</text></svg></body></html>
